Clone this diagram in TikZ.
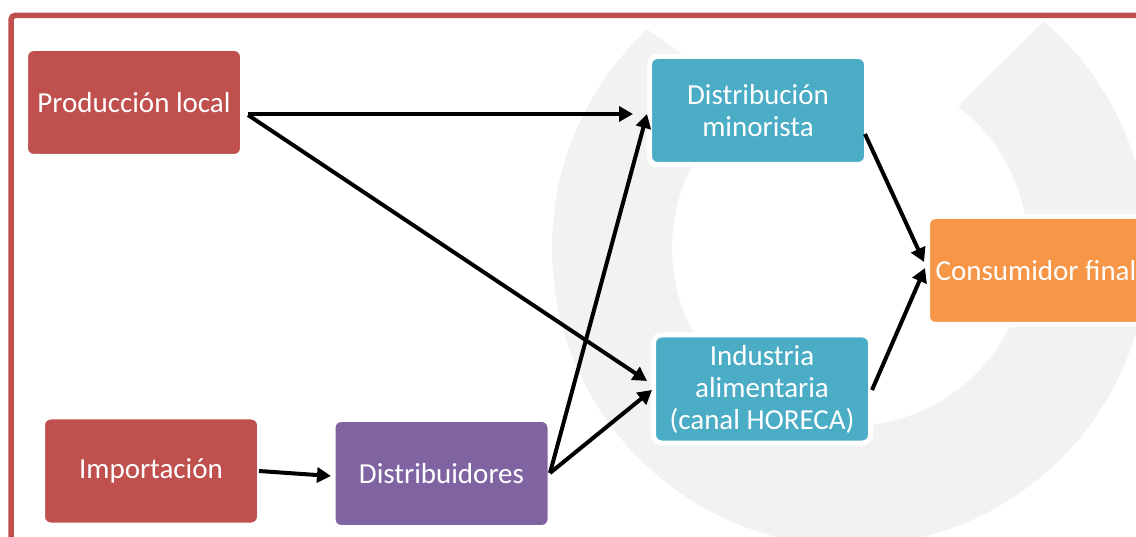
\documentclass[tikz,border=0pt]{standalone}
\usepackage{fontspec}
\setmainfont{Carlito}
\usetikzlibrary{arrows.meta,calc}
\definecolor{boxred}{HTML}{C0504D}
\definecolor{boxpurple}{HTML}{8064A2}
\definecolor{boxteal}{HTML}{4BACC6}
\definecolor{boxorange}{HTML}{F79646}
\definecolor{ringgray}{HTML}{F2F2F2}
\begin{document}
\begin{tikzpicture}[x=1pt,y=-1pt,
  box/.style={rounded corners=8pt, draw=white, line width=5pt, outer sep=0pt,
    inner sep=0pt, minimum width=217pt, minimum height=108pt, text=white,
    align=center, font=\fontsize{29}{32}\selectfont},
  arr/.style={line width=4pt, draw=black, -{Triangle[length=14pt,width=15pt]}}]
\useasboundingbox (0,0) rectangle (1136,537);
\clip (0,0) rectangle (1136,537);
\fill[white] (0,0) rectangle (1136,537);
% watermark ring
\fill[ringgray, even odd rule] (850,248) circle[radius=298pt] (850,248) circle[radius=178pt];
\fill[white] (557,-32) -- (645,28) -- (750,100) -- (850,248) -- (962,102) -- (1043,22) -- (1120,-56) -- cycle;
% frame
\draw[boxred, line width=5.5pt, rounded corners=4pt] (11,15.5) rectangle (1170,570);
% boxes
\node[box, fill=boxred] (prod) at (134,102.5) {Producción local};
\node[box, fill=boxred] (imp) at (151,471) {Importación};
\node[box, fill=boxpurple] (dist) at (441.5,473.5) {Distribuidores};
\node[box, fill=boxteal] (dm) at (758,110.5) {Distribución\\minorista};
\node[box, fill=boxteal] (ind) at (762,389) {Industria\\alimentaria\\(canal HORECA)};
\node[box, fill=boxorange] (cons) at (1036,270.5) {Consumidor final};
% connectors
\draw[arr] ($(prod)+(114,11.5)$) -- ($(dm)+(-125,3.5)$);
\draw[arr] ($(prod)+(114,12.5)$) -- ($(ind)+(-115,-8)$);
\draw[arr] ($(imp)+(108,0)$) -- ($(dist)+(-110.5,2.5)$);
\draw[arr] ($(dist)+(108.5,-0.5)$) -- ($(dm)+(-111,3.5)$);
\draw[arr] ($(dist)+(108.5,-0.5)$) -- ($(ind)+(-110,1)$);
\draw[arr] ($(dm)+(107,23.5)$) -- ($(cons)+(-112,-8.5)$);
\draw[arr] ($(ind)+(110,1)$) -- ($(cons)+(-111,-2.5)$);
\end{tikzpicture}
\end{document}
